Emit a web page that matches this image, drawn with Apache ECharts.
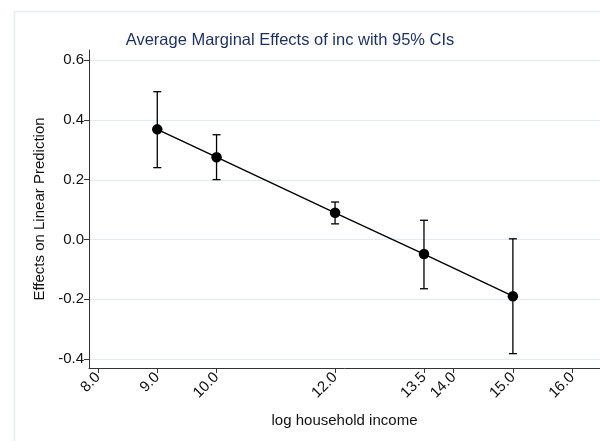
<!DOCTYPE html>
<html>
<head>
<meta charset="utf-8">
<script src="https://cdn.jsdelivr.net/npm/echarts@6/dist/echarts.min.js"></script>
<style>
html,body{margin:0;padding:0;background:#fff;}
#chart{width:600px;height:441px;}
</style>
</head>
<body>
<div id="chart"></div>
<script>
// Data
var incomeLevels = [9.0, 10.0, 12.0, 13.5, 15.0];
var marginalEffects = [0.368, 0.275, 0.089, -0.049, -0.190];
var ciLower = [0.240, 0.200, 0.052, -0.165, -0.382];
var ciUpper = [0.494, 0.350, 0.125, 0.064, 0.002];
var xTicks = [8.0, 9.0, 10.0, 12.0, 13.5, 14.0, 15.0, 16.0];
var yTicks = [-0.4, -0.2, 0.0, 0.2, 0.4, 0.6];

var pointData = incomeLevels.map(function (x, i) { return [x, marginalEffects[i]]; });
var ciData = incomeLevels.map(function (x, i) { return [x, ciLower[i], ciUpper[i]]; });

var chart = echarts.init(document.getElementById('chart'), null, {renderer: 'canvas'});
var font = 'Liberation Sans, Arial, Helvetica, sans-serif';

chart.setOption({
  backgroundColor: '#ffffff',
  animation: false,
  graphic: [{
    type: 'rect',
    shape: {x: 14.5, y: 11.5, width: 600, height: 440},
    style: {fill: 'none', stroke: '#e4eef1', lineWidth: 1.5},
    silent: true, z: -10
  }],
  title: {
    text: 'Average Marginal Effects of inc with 95% CIs',
    left: 285, top: 27, textAlign: 'center',
    textStyle: {color: '#1c2f5e', fontSize: 16.5, fontWeight: 'normal', fontFamily: font}
  },
  grid: {left: 89, top: 50, right: 0, bottom: 73, containLabel: false},
  xAxis: {
    type: 'value',
    min: 7.848, max: 16.47,
    name: 'log household income',
    nameLocation: 'middle', nameGap: 45,
    nameTextStyle: {color: '#111', fontSize: 15, fontFamily: font},
    axisLine: {show: true, onZero: false, lineStyle: {color: '#333', width: 1}},
    axisTick: {show: true, length: 5, customValues: xTicks, lineStyle: {color: '#333'}},
    axisLabel: {
      customValues: xTicks, rotate: 45, color: '#111', fontSize: 15, fontFamily: font, margin: 7,
      formatter: function (v) { return Number(v).toFixed(1); }
    },
    splitLine: {show: false}
  },
  yAxis: {
    type: 'value',
    min: -0.430, max: 0.6334,
    name: 'Effects on Linear Prediction',
    nameLocation: 'middle', nameGap: 42, nameRotate: 90,
    nameTextStyle: {color: '#111', fontSize: 15, fontFamily: font},
    axisLine: {show: true, onZero: false, lineStyle: {color: '#333', width: 1}},
    axisTick: {show: true, length: 5, customValues: yTicks, lineStyle: {color: '#333'}},
    axisLabel: {
      customValues: yTicks, color: '#111', fontSize: 15, fontFamily: font, margin: 5,
      formatter: function (v) { return Number(v).toFixed(1); }
    },
    splitLine: {show: false}
  },
  series: [
    {
      type: 'custom',
      data: yTicks,
      silent: true,
      renderItem: function (params, api) {
        var cs = params.coordSys;
        var y = api.coord([cs.x, api.value(0)])[1];
        y = Math.round(y) + 0.5;
        return {
          type: 'line',
          shape: {x1: cs.x + 1, y1: y, x2: cs.x + cs.width, y2: y},
          style: {stroke: '#e1ecf1', lineWidth: 1.2}
        };
      },
      encode: {y: 0},
      z: 0
    },
    {
      type: 'custom',
      data: ciData,
      renderItem: function (params, api) {
        var x = api.value(0);
        var lo = api.coord([x, api.value(1)]);
        var hi = api.coord([x, api.value(2)]);
        var cap = 4;
        var st = {stroke: '#000', lineWidth: 1.3};
        return {
          type: 'group',
          children: [
            {type: 'line', shape: {x1: lo[0], y1: lo[1], x2: hi[0], y2: hi[1]}, style: st},
            {type: 'line', shape: {x1: lo[0] - cap, y1: lo[1], x2: lo[0] + cap, y2: lo[1]}, style: st},
            {type: 'line', shape: {x1: hi[0] - cap, y1: hi[1], x2: hi[0] + cap, y2: hi[1]}, style: st}
          ]
        };
      },
      z: 2
    },
    {
      type: 'line',
      data: pointData,
      symbol: 'circle',
      symbolSize: 10.5,
      itemStyle: {color: '#000'},
      lineStyle: {color: '#000', width: 1.4},
      z: 3
    }
  ]
});
</script>
</body>
</html>
